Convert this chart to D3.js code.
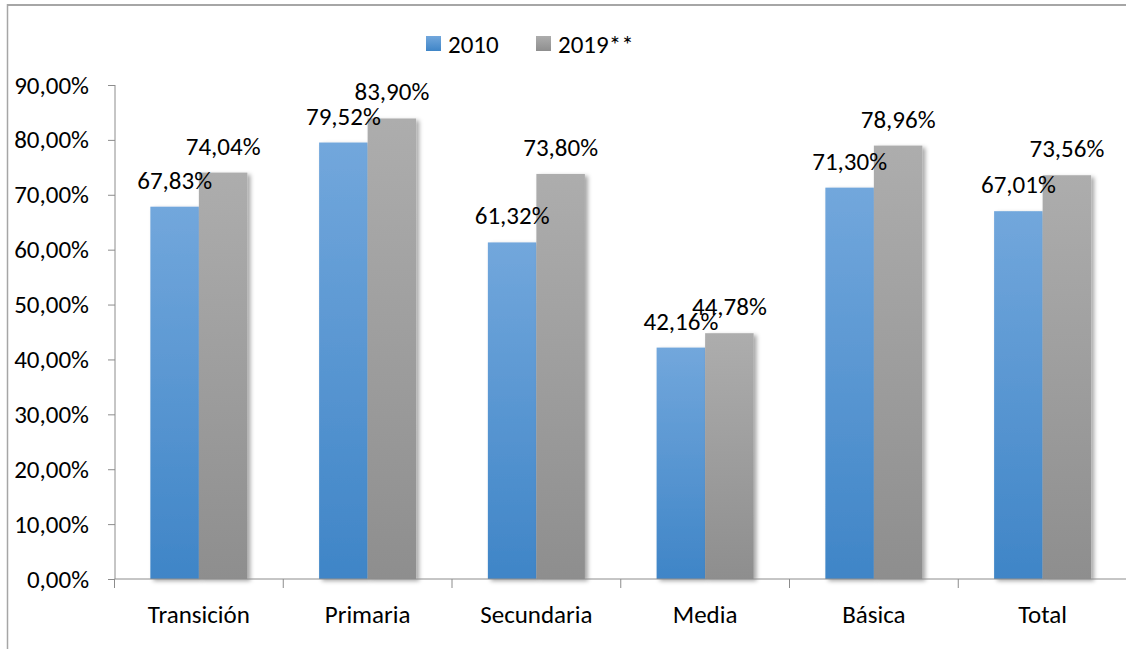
<!DOCTYPE html>
<html>
<head>
<meta charset="utf-8">
<script src="https://cdn.jsdelivr.net/npm/d3@7/dist/d3.min.js"></script>
<style>
  html, body { margin: 0; padding: 0; background: #fff; }
  svg { display: block; }
  text { font-family: Carlito, Calibri, Lato, sans-serif; fill: #000; }
</style>
</head>
<body>
<svg id="chart" width="1126" height="649"></svg>
<script>
const categories = ["Transición", "Primaria", "Secundaria", "Media", "Básica", "Total"];
const seriesNames = ["2010", "2019**"];
const values2010 = [67.83, 79.52, 61.32, 42.16, 71.30, 67.01];
const values2019 = [74.04, 83.90, 73.80, 44.78, 78.96, 73.56];
const yTicks = [0, 10, 20, 30, 40, 50, 60, 70, 80, 90];

const svg = d3.select("#chart");
const W = 1126, H = 649;
const fontSize = 25;
const FF = "Carlito, Calibri, Lato, sans-serif";

const defs = svg.append("defs");
const gBlue = defs.append("linearGradient").attr("id", "gBlue").attr("x1", 0).attr("y1", 0).attr("x2", 0).attr("y2", 1);
gBlue.append("stop").attr("offset", "0%").attr("stop-color", "#72a7dc");
gBlue.append("stop").attr("offset", "100%").attr("stop-color", "#3f85c7");
const gGray = defs.append("linearGradient").attr("id", "gGray").attr("x1", 0).attr("y1", 0).attr("x2", 0).attr("y2", 1);
gGray.append("stop").attr("offset", "0%").attr("stop-color", "#adadad");
gGray.append("stop").attr("offset", "100%").attr("stop-color", "#8e8e8e");
const shadow = defs.append("filter").attr("id", "shadow").attr("x", "-20%").attr("y", "-5%").attr("width", "150%").attr("height", "115%");
shadow.append("feDropShadow").attr("dx", 3).attr("dy", 2).attr("stdDeviation", 2).attr("flood-color", "#000").attr("flood-opacity", 0.35);

// outer frame (top and left visible)
svg.append("line").attr("x1", 7).attr("x2", W).attr("y1", 5).attr("y2", 5).attr("stroke", "#a6a6a6").attr("stroke-width", 2);
svg.append("line").attr("x1", 7.5).attr("x2", 7.5).attr("y1", 4).attr("y2", H).attr("stroke", "#a6a6a6").attr("stroke-width", 1.5);

const x0 = d3.scaleBand().domain(categories).range([114.5, 1127]).paddingInner(0.425).paddingOuter(0.2125);
const x1 = d3.scaleBand().domain(seriesNames).range([0, x0.bandwidth()]);
const y = d3.scaleLinear().domain([0, 90]).range([579, 85]);

// y axis
const yAxis = d3.axisLeft(y).tickValues(yTicks).tickSize(7).tickPadding(19)
  .tickFormat(d => d.toFixed(2).replace(".", ",") + "%");
const gy = svg.append("g").attr("transform", "translate(115,0)").call(yAxis);
gy.selectAll("path, line").attr("stroke", "#8c8c8c");
gy.select(".domain").attr("d", "M0,85V579");
gy.selectAll("text").attr("font-size", fontSize).style("font-family", FF).attr("fill", "#000");

// bars
const data = categories.map((c, i) => ({ cat: c, vals: [
  { s: seriesNames[0], v: values2010[i] },
  { s: seriesNames[1], v: values2019[i] }
]}));
const groups = svg.append("g").selectAll("g").data(data).join("g")
  .attr("transform", d => `translate(${x0(d.cat)},0)`);
groups.selectAll("rect").data(d => d.vals).join("rect")
  .attr("x", d => x1(d.s))
  .attr("y", d => y(d.v))
  .attr("width", x1.bandwidth())
  .attr("height", d => y(0) - y(d.v))
  .attr("fill", d => d.s === seriesNames[0] ? "url(#gBlue)" : "url(#gGray)")
  .attr("filter", "url(#shadow)");

// x axis
const xAxis = d3.axisBottom(x0).tickSize(0).tickPadding(26);
const gx = svg.append("g").attr("transform", "translate(0,579)").call(xAxis);
gx.select(".domain").attr("stroke", "#8c8c8c").attr("d", "M114.5,0H1127");
gx.selectAll("text").attr("font-size", fontSize).style("font-family", FF).attr("fill", "#000");
// category boundary ticks
const bounds = d3.range(categories.length + 1).map(i => 114.5 + i * x0.step());
svg.append("g").selectAll("line").data(bounds).join("line")
  .attr("x1", d => d).attr("x2", d => d).attr("y1", 579).attr("y2", 588)
  .attr("stroke", "#8c8c8c");

// data labels
groups.selectAll("text.lbl").data(d => d.vals).join("text").attr("class", "lbl")
  .attr("x", d => x1(d.s) + x1.bandwidth() / 2)
  .attr("y", d => y(d.v) - 18)
  .attr("text-anchor", "middle")
  .attr("font-size", fontSize)
  .text(d => d.v.toFixed(2).replace(".", ",") + "%");

// legend
const legend = svg.append("g");
const legX = [426, 536];
seriesNames.forEach((s, i) => {
  legend.append("rect").attr("x", legX[i]).attr("y", 36).attr("width", 15).attr("height", 15)
    .attr("fill", i === 0 ? "url(#gBlue)" : "url(#gGray)");
  legend.append("text").attr("x", legX[i] + 22).attr("y", 53).attr("font-size", fontSize).text(s);
});
</script>
</body>
</html>
